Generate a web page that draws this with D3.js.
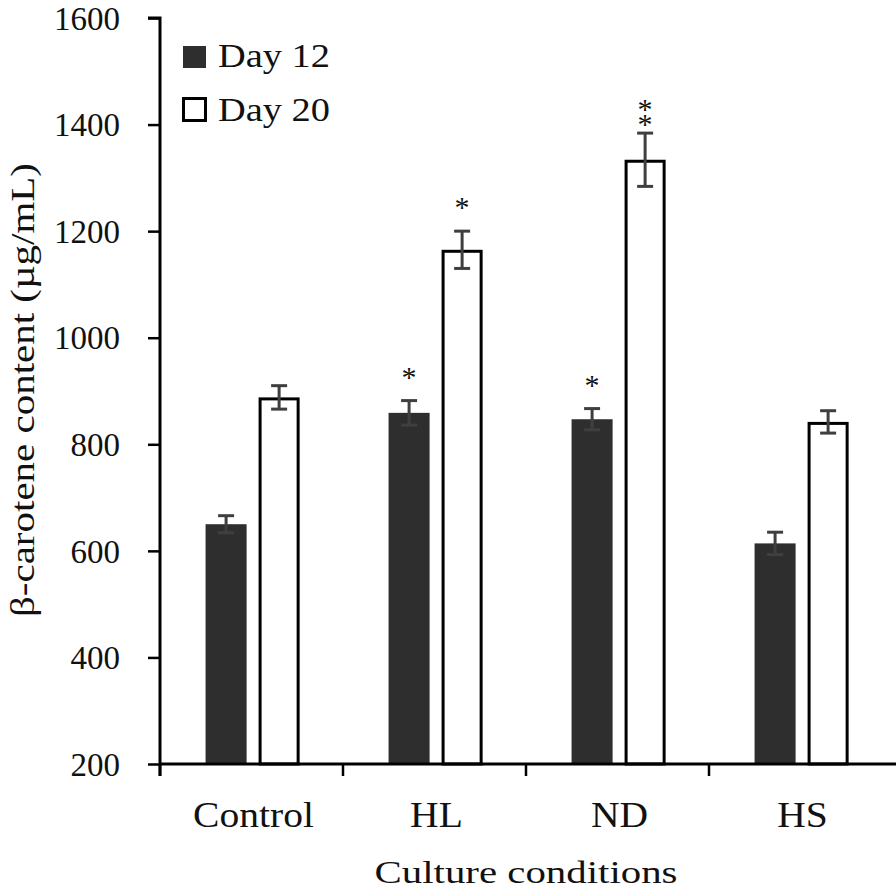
<!DOCTYPE html>
<html>
<head>
<meta charset="utf-8">
<script src="https://cdn.jsdelivr.net/npm/d3@7"></script>
<style>
  html, body { margin: 0; padding: 0; background: #fff; }
  svg { display: block; }
  text { font-family: "Liberation Serif", "Times New Roman", serif; fill: #111; }
</style>
</head>
<body>
<script>
// ---- data ----
const categories = ["Control", "HL", "ND", "HS"];
const seriesNames = ["Day 12", "Day 20"];
const day12 = [650, 859, 847, 614];
const day12Err = [16, 23, 20, 21];
const day20 = [888, 1165, 1334, 842];
const day20Err = [22, 35, 50, 21];
const day12Sig = ["", "*", "*", ""];
const day20Sig = ["", "*", "**", ""];
const yTicks = [200, 400, 600, 800, 1000, 1200, 1400, 1600];
const xTitle = "Culture conditions";
const yTitle = "β-carotene content (µg/mL)";

// ---- layout ----
const W = 896, H = 890;
const plotL = 160, plotR = 892, plotT = 18, plotB = 764;
const darkFill = "#2e2e2e", errColor = "#3f3f3f";

const svg = d3.select("body").append("svg").attr("width", W).attr("height", H);
svg.append("rect").attr("width", W).attr("height", H).attr("fill", "#fff");

const y = d3.scaleLinear().domain([200, 1600]).range([plotB, plotT]);
const x0 = d3.scaleBand().domain(categories).range([plotL, plotR]).padding(0);
const bw = x0.bandwidth();
const x1 = d3.scaleBand().domain(seriesNames)
  .range([bw * 0.249, bw * 0.763]).paddingInner(0.226).paddingOuter(0);

const rows = [];
categories.forEach((c, i) => {
  rows.push({cat: c, s: "Day 12", v: day12[i], e: day12Err[i], sig: day12Sig[i]});
  rows.push({cat: c, s: "Day 20", v: day20[i], e: day20Err[i], sig: day20Sig[i]});
});

// bars
const g = svg.append("g");
rows.forEach(r => {
  const bx = x0(r.cat) + x1(r.s);
  const w = x1.bandwidth();
  if (r.s === "Day 12") {
    g.append("rect").attr("x", bx).attr("y", y(r.v))
      .attr("width", w).attr("height", y(200) - y(r.v))
      .attr("fill", darkFill);
  } else {
    g.append("rect").attr("x", bx + 1.5).attr("y", y(r.v) + 1.5)
      .attr("width", w - 3).attr("height", y(200) - y(r.v) - 1.5)
      .attr("fill", "#fff").attr("stroke", "#000").attr("stroke-width", 3);
  }
  // error bars
  const cx = bx + w / 2;
  const eg = g.append("g").attr("stroke", errColor).attr("stroke-width", 3);
  eg.append("line").attr("x1", cx).attr("x2", cx).attr("y1", y(r.v + r.e)).attr("y2", y(r.v - r.e));
  eg.append("line").attr("x1", cx - 8).attr("x2", cx + 8).attr("y1", y(r.v + r.e)).attr("y2", y(r.v + r.e));
  eg.append("line").attr("x1", cx - 8).attr("x2", cx + 8).attr("y1", y(r.v - r.e)).attr("y2", y(r.v - r.e));
  // significance stars (stacked vertically when more than one)
  const n = r.sig.length;
  if (n > 0) {
    const errTop = y(r.v + r.e);
    const firstCentre = n === 1 ? errTop - 28 : errTop - 13 - 15 * (n - 1);
    const t = g.append("text").attr("text-anchor", "middle").attr("font-size", 30);
    for (let k = 0; k < n; k++) {
      t.append("tspan").attr("x", cx)
        .attr("y", firstCentre + 14 + 15 * k).text("*");
    }
  }
});

// y axis
const yAxis = d3.axisLeft(y).tickValues(yTicks).tickSize(12).tickPadding(28).tickFormat(d3.format("d"));
const ya = svg.append("g").attr("transform", `translate(${plotL},0)`).call(yAxis);
ya.select(".domain").attr("stroke", "#000").attr("stroke-width", 3).attr("d", `M-12,${plotT}H0V${plotB + 12}`);
ya.selectAll(".tick line").attr("stroke", "#000").attr("stroke-width", 2.5);
ya.selectAll(".tick text").attr("font-size", 33).attr("font-family", "Liberation Serif").attr("fill", "#111").attr("dy", "0.34em");

// x axis
const xa = svg.append("g");
xa.append("line").attr("x1", plotL).attr("x2", plotR + 4).attr("y1", plotB).attr("y2", plotB)
  .attr("stroke", "#000").attr("stroke-width", 3);
categories.forEach(c => {
  xa.append("line").attr("x1", x0(c)).attr("x2", x0(c)).attr("y1", plotB).attr("y2", plotB + 12)
    .attr("stroke", "#000").attr("stroke-width", 2.5);
});
categories.forEach(c => {
  const t = xa.append("text").attr("x", x0(c) + bw / 2 + 2).attr("y", plotB + 63)
    .attr("text-anchor", "middle").attr("font-size", 35).text(c);
  const L = t.node().getComputedTextLength();
  t.attr("textLength", L * 1.13).attr("lengthAdjust", "spacingAndGlyphs");
});

// titles
svg.append("text").attr("x", (plotL + plotR) / 2).attr("y", 883)
  .attr("text-anchor", "middle").attr("font-size", 32)
  .attr("textLength", 303).attr("lengthAdjust", "spacingAndGlyphs").text(xTitle);
svg.append("text").attr("transform", `translate(34,${(163 + 617) / 2}) rotate(-90)`)
  .attr("text-anchor", "middle").attr("font-size", 33)
  .attr("textLength", 454).attr("lengthAdjust", "spacingAndGlyphs").text(yTitle);

// legend
const lg = svg.append("g");
seriesNames.forEach((s, i) => {
  const yy = 67 + i * 54;
  if (i === 0) {
    lg.append("rect").attr("x", 183).attr("y", yy - 21).attr("width", 23).attr("height", 22).attr("fill", darkFill);
  } else {
    lg.append("rect").attr("x", 183.5).attr("y", yy - 22.5).attr("width", 22).attr("height", 22)
      .attr("fill", "#fff").attr("stroke", "#000").attr("stroke-width", 3);
  }
  lg.append("text").attr("x", 218).attr("y", yy).attr("font-size", 34)
    .attr("textLength", 112).attr("lengthAdjust", "spacingAndGlyphs").text(s);
});
</script>
</body>
</html>
